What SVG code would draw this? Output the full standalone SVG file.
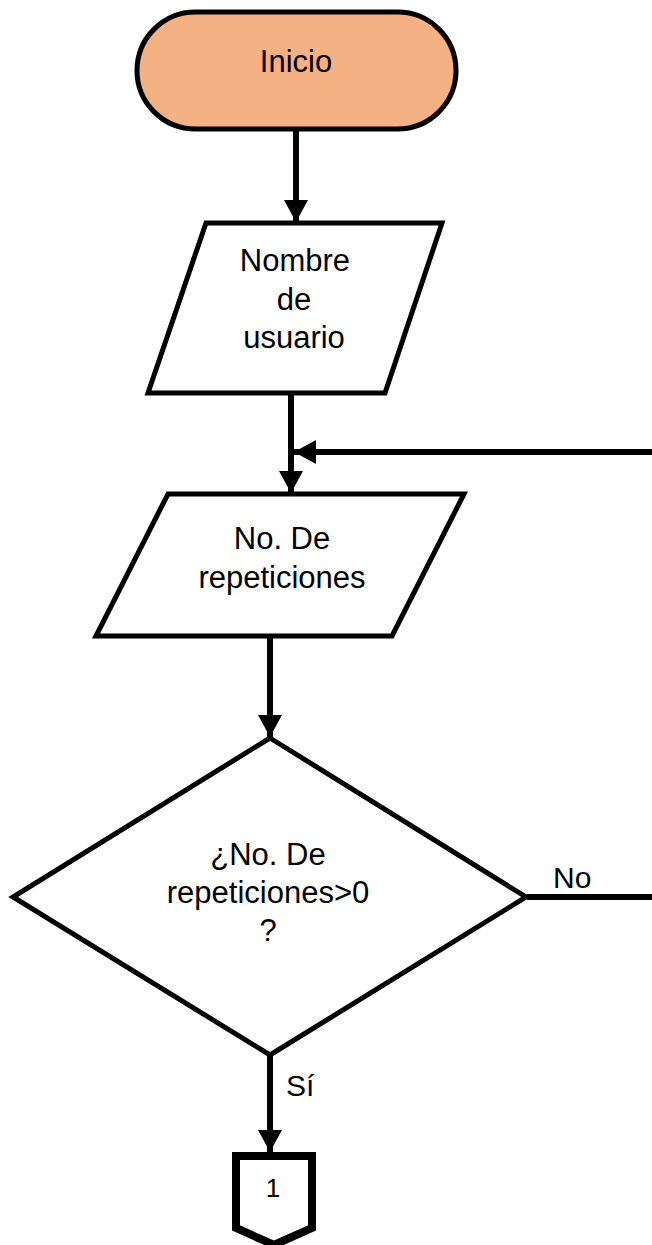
<svg xmlns="http://www.w3.org/2000/svg" width="652" height="1245" viewBox="0 0 652 1245">
  <defs>
    <marker id="arrow" markerUnits="userSpaceOnUse" markerWidth="22" markerHeight="24" refX="22" refY="12" orient="auto">
      <path d="M0,0 L22,12 L0,24 z" fill="#000"/>
    </marker>
    <style>
      .shape { fill: #fff; stroke: #000; stroke-width: 5; stroke-linejoin: miter; }
      .flow { fill: none; stroke: #000; stroke-width: 6; }
      .label { font-family: "Liberation Sans", Arial, sans-serif; font-size: 31px; fill: #000; text-anchor: middle; }
      .edge-label { font-family: "Liberation Sans", Arial, sans-serif; font-size: 30px; fill: #000; }
    </style>
  </defs>
  <rect width="652" height="1245" fill="#fff"/>

  <!-- connectors -->
  <g id="connectors">
    <path class="flow" d="M296,130 V222" marker-end="url(#arrow)"/>
    <path class="flow" d="M291,393 V493" marker-end="url(#arrow)"/>
    <path class="flow" d="M652,452 H294" marker-end="url(#arrow)"/>
    <path class="flow" d="M270,637 V737" marker-end="url(#arrow)"/>
    <path class="flow" d="M527,897 H652"/>
    <path class="flow" d="M270,1055 V1152" marker-end="url(#arrow)"/>
    <text class="edge-label" x="553" y="888">No</text>
    <text class="edge-label" x="286" y="1096">Sí</text>
  </g>

  <!-- start terminator -->
  <g id="inicio">
    <rect x="137" y="12" width="319" height="117" rx="58.5" ry="58.5" fill="#F4B183" stroke="#000" stroke-width="5"/>
    <text class="label" x="296" y="72">Inicio</text>
  </g>

  <!-- input: user name -->
  <g id="nombre">
    <polygon class="shape" points="206,223 442,223 385,393 148,393"/>
    <text class="label" x="295" y="271">Nombre</text>
    <text class="label" x="294" y="310">de</text>
    <text class="label" x="294" y="348">usuario</text>
  </g>

  <!-- input: number of repetitions -->
  <g id="repeticiones">
    <polygon class="shape" points="168,494 464,494 392,636 96,636"/>
    <text class="label" x="282" y="549">No. De</text>
    <text class="label" x="282" y="588">repeticiones</text>
  </g>

  <!-- decision -->
  <g id="decision">
    <polygon class="shape" points="270,738 526,897 270,1055 13,897"/>
    <text class="label" x="268" y="865">¿No. De</text>
    <text class="label" x="268" y="903">repeticiones&gt;0</text>
    <text class="label" x="268" y="941">?</text>
  </g>

  <!-- off-page connector -->
  <g id="conector1">
    <polygon points="236,1156 312,1156 312,1228 274,1245 236,1228" fill="#fff" stroke="#000" stroke-width="8"/>
    <text x="273" y="1197" font-family="Liberation Sans, Arial, sans-serif" font-size="26" text-anchor="middle" fill="#000">1</text>
  </g>
</svg>
